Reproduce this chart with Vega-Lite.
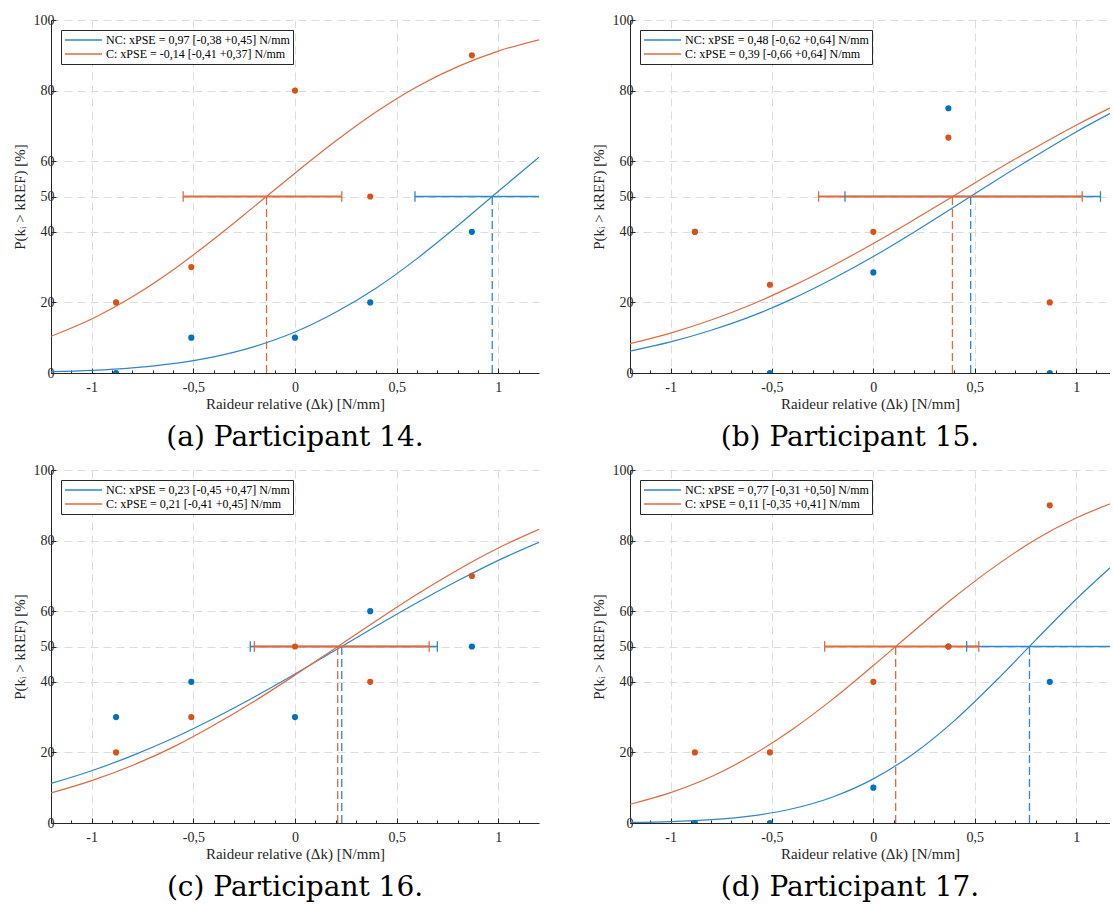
{
  "$schema": "https://vega.github.io/schema/vega-lite/v6.json",
  "background": "white",
  "padding": {"left": 12, "top": 13, "right": 0, "bottom": 0},
  "datasets": {
    "curves": [
      {"panel": "a", "x": -1.2, "NC": 0.38, "C": 10.4}, {"panel": "a", "x": -1.0, "NC": 0.76, "C": 15.3}, {"panel": "a", "x": -0.8, "NC": 1.46, "C": 21.6}, {"panel": "a", "x": -0.6, "NC": 2.66, "C": 29.2}, {"panel": "a", "x": -0.4, "NC": 4.58, "C": 37.9}, {"panel": "a", "x": -0.2, "NC": 7.48, "C": 47.2}, {"panel": "a", "x": 0.0, "NC": 11.6, "C": 56.6}, {"panel": "a", "x": 0.2, "NC": 17.2, "C": 65.7}, {"panel": "a", "x": 0.4, "NC": 24.1, "C": 74.0}, {"panel": "a", "x": 0.6, "NC": 32.4, "C": 81.1}, {"panel": "a", "x": 0.8, "NC": 41.7, "C": 86.8}, {"panel": "a", "x": 1.0, "NC": 51.5, "C": 91.2}, {"panel": "a", "x": 1.2, "NC": 61.1, "C": 94.4},
      {"panel": "b", "x": -1.2, "NC": 6.2, "C": 8.3}, {"panel": "b", "x": -1.0, "NC": 8.8, "C": 11.3}, {"panel": "b", "x": -0.8, "NC": 12.1, "C": 15.0}, {"panel": "b", "x": -0.6, "NC": 16.1, "C": 19.4}, {"panel": "b", "x": -0.4, "NC": 21.0, "C": 24.6}, {"panel": "b", "x": -0.2, "NC": 26.7, "C": 30.4}, {"panel": "b", "x": 0.0, "NC": 33.0, "C": 36.7}, {"panel": "b", "x": 0.2, "NC": 39.9, "C": 43.4}, {"panel": "b", "x": 0.4, "NC": 47.1, "C": 50.3}, {"panel": "b", "x": 0.6, "NC": 54.4, "C": 57.3}, {"panel": "b", "x": 0.8, "NC": 61.5, "C": 63.9}, {"panel": "b", "x": 1.0, "NC": 68.3, "C": 70.2}, {"panel": "b", "x": 1.2, "NC": 74.5, "C": 76.0},
      {"panel": "c", "x": -1.2, "NC": 11.2, "C": 8.5}, {"panel": "c", "x": -1.0, "NC": 14.8, "C": 12.0}, {"panel": "c", "x": -0.8, "NC": 19.1, "C": 16.3}, {"panel": "c", "x": -0.6, "NC": 24.0, "C": 21.5}, {"panel": "c", "x": -0.4, "NC": 29.6, "C": 27.7}, {"panel": "c", "x": -0.2, "NC": 35.7, "C": 34.5}, {"panel": "c", "x": 0.0, "NC": 42.2, "C": 41.9}, {"panel": "c", "x": 0.2, "NC": 49.0, "C": 49.6}, {"panel": "c", "x": 0.4, "NC": 55.8, "C": 57.3}, {"panel": "c", "x": 0.6, "NC": 62.4, "C": 64.8}, {"panel": "c", "x": 0.8, "NC": 68.6, "C": 71.7}, {"panel": "c", "x": 1.0, "NC": 74.4, "C": 77.9}, {"panel": "c", "x": 1.2, "NC": 79.5, "C": 83.2},
      {"panel": "d", "x": -1.2, "NC": 0.16, "C": 5.3}, {"panel": "d", "x": -1.0, "NC": 0.41, "C": 8.6}, {"panel": "d", "x": -0.8, "NC": 0.96, "C": 13.1}, {"panel": "d", "x": -0.6, "NC": 2.04, "C": 19.1}, {"panel": "d", "x": -0.4, "NC": 4.04, "C": 26.5}, {"panel": "d", "x": -0.2, "NC": 7.38, "C": 35.1}, {"panel": "d", "x": 0.0, "NC": 12.5, "C": 44.6}, {"panel": "d", "x": 0.2, "NC": 19.7, "C": 54.4}, {"panel": "d", "x": 0.4, "NC": 29.0, "C": 64.0}, {"panel": "d", "x": 0.6, "NC": 40.0, "C": 72.7}, {"panel": "d", "x": 0.8, "NC": 51.8, "C": 80.3}, {"panel": "d", "x": 1.0, "NC": 63.4, "C": 86.4}, {"panel": "d", "x": 1.2, "NC": 74.0, "C": 91.1}
    ],
    "pts": [
      {"panel": "a", "x": -0.88, "NC": 0, "C": 20}, {"panel": "a", "x": -0.51, "NC": 10, "C": 30}, {"panel": "a", "x": 0, "NC": 10, "C": 80}, {"panel": "a", "x": 0.37, "NC": 20, "C": 50}, {"panel": "a", "x": 0.87, "NC": 40, "C": 90},
      {"panel": "b", "x": -0.88, "NC": 40, "C": 40}, {"panel": "b", "x": -0.51, "NC": 0, "C": 25}, {"panel": "b", "x": 0, "NC": 28.5, "C": 40}, {"panel": "b", "x": 0.37, "NC": 75, "C": 66.7}, {"panel": "b", "x": 0.87, "NC": 0, "C": 20},
      {"panel": "c", "x": -0.88, "NC": 30, "C": 20}, {"panel": "c", "x": -0.51, "NC": 40, "C": 30}, {"panel": "c", "x": 0, "NC": 30, "C": 50}, {"panel": "c", "x": 0.37, "NC": 60, "C": 40}, {"panel": "c", "x": 0.87, "NC": 50, "C": 70},
      {"panel": "d", "x": -0.88, "NC": 0, "C": 20}, {"panel": "d", "x": -0.51, "NC": 0, "C": 20}, {"panel": "d", "x": 0, "NC": 10, "C": 40}, {"panel": "d", "x": 0.37, "NC": 50, "C": 50}, {"panel": "d", "x": 0.87, "NC": 40, "C": 90}
    ],
    "pse": [
      {"panel": "a", "grp": "NC", "pse": 0.97, "lo": 0.59, "hi": 1.42}, {"panel": "a", "grp": "C", "pse": -0.14, "lo": -0.55, "hi": 0.23},
      {"panel": "b", "grp": "NC", "pse": 0.48, "lo": -0.14, "hi": 1.12}, {"panel": "b", "grp": "C", "pse": 0.39, "lo": -0.27, "hi": 1.03},
      {"panel": "c", "grp": "NC", "pse": 0.23, "lo": -0.22, "hi": 0.70}, {"panel": "c", "grp": "C", "pse": 0.21, "lo": -0.20, "hi": 0.66},
      {"panel": "d", "grp": "NC", "pse": 0.77, "lo": 0.46, "hi": 1.27}, {"panel": "d", "grp": "C", "pse": 0.11, "lo": -0.24, "hi": 0.52}
    ]
  },
  "columns": 2,
  "spacing": {"row": 97, "column": 91},
  "bounds": "flush",
  "resolve": {"scale": {"x": "independent", "y": "independent", "stroke": "independent", "fill": "independent"}, "legend": {"stroke": "independent"}},
  "concat": [
    {
      "width": 488, "height": 353,
      "title": {"text": "(a) Participant 14."},
      "layer": [
        {"data": {"name": "curves"}, "transform": [{"filter": "datum.panel == 'a'"}, {"fold": ["NC", "C"], "as": ["grp", "p"]}],
         "mark": {"type": "line", "clip": true, "interpolate": "monotone", "strokeWidth": 1.2},
         "encoding": {
           "x": {"field": "x", "type": "quantitative", "scale": {"domain": [-1.2, 1.2], "nice": false, "zero": false},
                 "axis": {"title": "Raideur relative (Δk) [N/mm]", "labelOverlap": false, "tickCount": 100, "values": [-1.1, -1, -0.9, -0.8, -0.7, -0.6, -0.5, -0.4, -0.3, -0.2, -0.1, 0, 0.1, 0.2, 0.3, 0.4, 0.5, 0.6, 0.7, 0.8, 0.9, 1, 1.1],
                          "labelExpr": "(abs(datum.value) == 1 || datum.value == 0 || abs(datum.value) == 0.5) ? (datum.value < 0 ? '-' : '') + replace(format(abs(datum.value), '~g'), '.', ',') : ''",
                          "gridOpacity": {"condition": {"test": "abs(datum.value) == 1 || datum.value == 0 || abs(datum.value) == 0.5", "value": 1}, "value": 0},
                          "tickSize": {"condition": {"test": "abs(datum.value) == 1 || datum.value == 0 || abs(datum.value) == 0.5", "value": -5}, "value": -3}}},
           "y": {"field": "p", "type": "quantitative", "scale": {"domain": [0, 100], "nice": false},
                 "axis": {"title": "P(kᵢ > kREF) [%]", "tickCount": 50, "values": [0, 20, 40, 50, 60, 80, 100], "tickSize": -5}},
           "stroke": {"field": "grp", "type": "nominal", "scale": {"domain": ["NC", "C"], "range": ["#2a87d0", "#e5693b"]},
                      "legend": {"title": null, "labelExpr": "datum.label == 'NC' ? 'NC: xPSE = 0,97 [-0,38 +0,45] N/mm' : 'C: xPSE = -0,14 [-0,41 +0,37] N/mm'"}}
         }},
        {"data": {"name": "pse"}, "transform": [{"filter": "datum.panel == 'a'"}],
         "mark": {"type": "rule", "clip": true},
         "encoding": {"x": {"field": "lo", "type": "quantitative"}, "x2": {"field": "hi"}, "y": {"datum": 50}, "stroke": {"field": "grp", "type": "nominal", "legend": null},
                      "strokeWidth": {"condition": {"test": "datum.grp == 'C'", "value": 1.8}, "value": 1.3}}},
        {"data": {"name": "pse"}, "transform": [{"filter": "datum.panel == 'a'"}],
         "mark": {"type": "rule", "clip": true, "strokeWidth": 1.3},
         "encoding": {"x": {"field": "lo", "type": "quantitative"}, "y": {"datum": 48.5}, "y2": {"datum": 51.5}, "stroke": {"field": "grp", "type": "nominal", "legend": null}}},
        {"data": {"name": "pse"}, "transform": [{"filter": "datum.panel == 'a'"}],
         "mark": {"type": "rule", "clip": true, "strokeWidth": 1.3},
         "encoding": {"x": {"field": "hi", "type": "quantitative"}, "y": {"datum": 48.5}, "y2": {"datum": 51.5}, "stroke": {"field": "grp", "type": "nominal", "legend": null}}},
        {"data": {"name": "pse"}, "transform": [{"filter": "datum.panel == 'a'"}],
         "mark": {"type": "rule", "clip": true, "strokeWidth": 1.3, "strokeDash": [8, 4]},
         "encoding": {"x": {"field": "pse", "type": "quantitative"}, "y": {"datum": 0}, "y2": {"datum": 50}, "stroke": {"field": "grp", "type": "nominal", "legend": null}}},
        {"data": {"name": "pts"}, "transform": [{"filter": "datum.panel == 'a'"}, {"fold": ["NC", "C"], "as": ["grp", "p"]}],
         "mark": {"type": "circle", "size": 38, "opacity": 1, "clip": true},
         "encoding": {"x": {"field": "x", "type": "quantitative"}, "y": {"field": "p", "type": "quantitative"},
                      "fill": {"field": "grp", "type": "nominal", "scale": {"domain": ["NC", "C"], "range": ["#0072BD", "#D95319"]}, "legend": null}}}
      ]
    },
    {
      "width": 480, "height": 353,
      "title": {"text": "(b) Participant 15.", "dx": -20},
      "layer": [
        {"data": {"name": "curves"}, "transform": [{"filter": "datum.panel == 'b'"}, {"fold": ["NC", "C"], "as": ["grp", "p"]}],
         "mark": {"type": "line", "clip": true, "interpolate": "monotone", "strokeWidth": 1.2},
         "encoding": {
           "x": {"field": "x", "type": "quantitative", "scale": {"domain": [-1.2, 1.167], "nice": false, "zero": false},
                 "axis": {"title": "Raideur relative (Δk) [N/mm]", "labelOverlap": false, "tickCount": 100, "values": [-1.1, -1, -0.9, -0.8, -0.7, -0.6, -0.5, -0.4, -0.3, -0.2, -0.1, 0, 0.1, 0.2, 0.3, 0.4, 0.5, 0.6, 0.7, 0.8, 0.9, 1, 1.1],
                          "labelExpr": "(abs(datum.value) == 1 || datum.value == 0 || abs(datum.value) == 0.5) ? (datum.value < 0 ? '-' : '') + replace(format(abs(datum.value), '~g'), '.', ',') : ''",
                          "gridOpacity": {"condition": {"test": "abs(datum.value) == 1 || datum.value == 0 || abs(datum.value) == 0.5", "value": 1}, "value": 0},
                          "tickSize": {"condition": {"test": "abs(datum.value) == 1 || datum.value == 0 || abs(datum.value) == 0.5", "value": -5}, "value": -3}}},
           "y": {"field": "p", "type": "quantitative", "scale": {"domain": [0, 100], "nice": false},
                 "axis": {"title": "P(kᵢ > kREF) [%]", "tickCount": 50, "values": [0, 20, 40, 50, 60, 80, 100], "tickSize": -5}},
           "stroke": {"field": "grp", "type": "nominal", "scale": {"domain": ["NC", "C"], "range": ["#2a87d0", "#e5693b"]},
                      "legend": {"title": null, "labelExpr": "datum.label == 'NC' ? 'NC: xPSE = 0,48 [-0,62 +0,64] N/mm' : 'C: xPSE = 0,39 [-0,66 +0,64] N/mm'"}}
         }},
        {"data": {"name": "pse"}, "transform": [{"filter": "datum.panel == 'b'"}],
         "mark": {"type": "rule", "clip": true},
         "encoding": {"x": {"field": "lo", "type": "quantitative"}, "x2": {"field": "hi"}, "y": {"datum": 50}, "stroke": {"field": "grp", "type": "nominal", "legend": null},
                      "strokeWidth": {"condition": {"test": "datum.grp == 'C'", "value": 1.8}, "value": 1.3}}},
        {"data": {"name": "pse"}, "transform": [{"filter": "datum.panel == 'b'"}],
         "mark": {"type": "rule", "clip": true, "strokeWidth": 1.3},
         "encoding": {"x": {"field": "lo", "type": "quantitative"}, "y": {"datum": 48.5}, "y2": {"datum": 51.5}, "stroke": {"field": "grp", "type": "nominal", "legend": null}}},
        {"data": {"name": "pse"}, "transform": [{"filter": "datum.panel == 'b'"}],
         "mark": {"type": "rule", "clip": true, "strokeWidth": 1.3},
         "encoding": {"x": {"field": "hi", "type": "quantitative"}, "y": {"datum": 48.5}, "y2": {"datum": 51.5}, "stroke": {"field": "grp", "type": "nominal", "legend": null}}},
        {"data": {"name": "pse"}, "transform": [{"filter": "datum.panel == 'b'"}],
         "mark": {"type": "rule", "clip": true, "strokeWidth": 1.3, "strokeDash": [8, 4]},
         "encoding": {"x": {"field": "pse", "type": "quantitative"}, "y": {"datum": 0}, "y2": {"datum": 50}, "stroke": {"field": "grp", "type": "nominal", "legend": null}}},
        {"data": {"name": "pts"}, "transform": [{"filter": "datum.panel == 'b'"}, {"fold": ["NC", "C"], "as": ["grp", "p"]}],
         "mark": {"type": "circle", "size": 38, "opacity": 1, "clip": true},
         "encoding": {"x": {"field": "x", "type": "quantitative"}, "y": {"field": "p", "type": "quantitative"},
                      "fill": {"field": "grp", "type": "nominal", "scale": {"domain": ["NC", "C"], "range": ["#0072BD", "#D95319"]}, "legend": null}}}
      ]
    },
    {
      "width": 488, "height": 353,
      "title": {"text": "(c) Participant 16."},
      "layer": [
        {"data": {"name": "curves"}, "transform": [{"filter": "datum.panel == 'c'"}, {"fold": ["NC", "C"], "as": ["grp", "p"]}],
         "mark": {"type": "line", "clip": true, "interpolate": "monotone", "strokeWidth": 1.2},
         "encoding": {
           "x": {"field": "x", "type": "quantitative", "scale": {"domain": [-1.2, 1.2], "nice": false, "zero": false},
                 "axis": {"title": "Raideur relative (Δk) [N/mm]", "labelOverlap": false, "tickCount": 100, "values": [-1.1, -1, -0.9, -0.8, -0.7, -0.6, -0.5, -0.4, -0.3, -0.2, -0.1, 0, 0.1, 0.2, 0.3, 0.4, 0.5, 0.6, 0.7, 0.8, 0.9, 1, 1.1],
                          "labelExpr": "(abs(datum.value) == 1 || datum.value == 0 || abs(datum.value) == 0.5) ? (datum.value < 0 ? '-' : '') + replace(format(abs(datum.value), '~g'), '.', ',') : ''",
                          "gridOpacity": {"condition": {"test": "abs(datum.value) == 1 || datum.value == 0 || abs(datum.value) == 0.5", "value": 1}, "value": 0},
                          "tickSize": {"condition": {"test": "abs(datum.value) == 1 || datum.value == 0 || abs(datum.value) == 0.5", "value": -5}, "value": -3}}},
           "y": {"field": "p", "type": "quantitative", "scale": {"domain": [0, 100], "nice": false},
                 "axis": {"title": "P(kᵢ > kREF) [%]", "tickCount": 50, "values": [0, 20, 40, 50, 60, 80, 100], "tickSize": -5}},
           "stroke": {"field": "grp", "type": "nominal", "scale": {"domain": ["NC", "C"], "range": ["#2a87d0", "#e5693b"]},
                      "legend": {"title": null, "labelExpr": "datum.label == 'NC' ? 'NC: xPSE = 0,23 [-0,45 +0,47] N/mm' : 'C: xPSE = 0,21 [-0,41 +0,45] N/mm'"}}
         }},
        {"data": {"name": "pse"}, "transform": [{"filter": "datum.panel == 'c'"}],
         "mark": {"type": "rule", "clip": true},
         "encoding": {"x": {"field": "lo", "type": "quantitative"}, "x2": {"field": "hi"}, "y": {"datum": 50}, "stroke": {"field": "grp", "type": "nominal", "legend": null},
                      "strokeWidth": {"condition": {"test": "datum.grp == 'C'", "value": 1.8}, "value": 1.3}}},
        {"data": {"name": "pse"}, "transform": [{"filter": "datum.panel == 'c'"}],
         "mark": {"type": "rule", "clip": true, "strokeWidth": 1.3},
         "encoding": {"x": {"field": "lo", "type": "quantitative"}, "y": {"datum": 48.5}, "y2": {"datum": 51.5}, "stroke": {"field": "grp", "type": "nominal", "legend": null}}},
        {"data": {"name": "pse"}, "transform": [{"filter": "datum.panel == 'c'"}],
         "mark": {"type": "rule", "clip": true, "strokeWidth": 1.3},
         "encoding": {"x": {"field": "hi", "type": "quantitative"}, "y": {"datum": 48.5}, "y2": {"datum": 51.5}, "stroke": {"field": "grp", "type": "nominal", "legend": null}}},
        {"data": {"name": "pse"}, "transform": [{"filter": "datum.panel == 'c'"}],
         "mark": {"type": "rule", "clip": true, "strokeWidth": 1.3, "strokeDash": [8, 4]},
         "encoding": {"x": {"field": "pse", "type": "quantitative"}, "y": {"datum": 0}, "y2": {"datum": 50}, "stroke": {"field": "grp", "type": "nominal", "legend": null}}},
        {"data": {"name": "pts"}, "transform": [{"filter": "datum.panel == 'c'"}, {"fold": ["NC", "C"], "as": ["grp", "p"]}],
         "mark": {"type": "circle", "size": 38, "opacity": 1, "clip": true},
         "encoding": {"x": {"field": "x", "type": "quantitative"}, "y": {"field": "p", "type": "quantitative"},
                      "fill": {"field": "grp", "type": "nominal", "scale": {"domain": ["NC", "C"], "range": ["#0072BD", "#D95319"]}, "legend": null}}}
      ]
    },
    {
      "width": 480, "height": 353,
      "title": {"text": "(d) Participant 17.", "dx": -20},
      "layer": [
        {"data": {"name": "curves"}, "transform": [{"filter": "datum.panel == 'd'"}, {"fold": ["NC", "C"], "as": ["grp", "p"]}],
         "mark": {"type": "line", "clip": true, "interpolate": "monotone", "strokeWidth": 1.2},
         "encoding": {
           "x": {"field": "x", "type": "quantitative", "scale": {"domain": [-1.2, 1.167], "nice": false, "zero": false},
                 "axis": {"title": "Raideur relative (Δk) [N/mm]", "labelOverlap": false, "tickCount": 100, "values": [-1.1, -1, -0.9, -0.8, -0.7, -0.6, -0.5, -0.4, -0.3, -0.2, -0.1, 0, 0.1, 0.2, 0.3, 0.4, 0.5, 0.6, 0.7, 0.8, 0.9, 1, 1.1],
                          "labelExpr": "(abs(datum.value) == 1 || datum.value == 0 || abs(datum.value) == 0.5) ? (datum.value < 0 ? '-' : '') + replace(format(abs(datum.value), '~g'), '.', ',') : ''",
                          "gridOpacity": {"condition": {"test": "abs(datum.value) == 1 || datum.value == 0 || abs(datum.value) == 0.5", "value": 1}, "value": 0},
                          "tickSize": {"condition": {"test": "abs(datum.value) == 1 || datum.value == 0 || abs(datum.value) == 0.5", "value": -5}, "value": -3}}},
           "y": {"field": "p", "type": "quantitative", "scale": {"domain": [0, 100], "nice": false},
                 "axis": {"title": "P(kᵢ > kREF) [%]", "tickCount": 50, "values": [0, 20, 40, 50, 60, 80, 100], "tickSize": -5}},
           "stroke": {"field": "grp", "type": "nominal", "scale": {"domain": ["NC", "C"], "range": ["#2a87d0", "#e5693b"]},
                      "legend": {"title": null, "labelExpr": "datum.label == 'NC' ? 'NC: xPSE = 0,77 [-0,31 +0,50] N/mm' : 'C: xPSE = 0,11 [-0,35 +0,41] N/mm'"}}
         }},
        {"data": {"name": "pse"}, "transform": [{"filter": "datum.panel == 'd'"}],
         "mark": {"type": "rule", "clip": true},
         "encoding": {"x": {"field": "lo", "type": "quantitative"}, "x2": {"field": "hi"}, "y": {"datum": 50}, "stroke": {"field": "grp", "type": "nominal", "legend": null},
                      "strokeWidth": {"condition": {"test": "datum.grp == 'C'", "value": 1.8}, "value": 1.3}}},
        {"data": {"name": "pse"}, "transform": [{"filter": "datum.panel == 'd'"}],
         "mark": {"type": "rule", "clip": true, "strokeWidth": 1.3},
         "encoding": {"x": {"field": "lo", "type": "quantitative"}, "y": {"datum": 48.5}, "y2": {"datum": 51.5}, "stroke": {"field": "grp", "type": "nominal", "legend": null}}},
        {"data": {"name": "pse"}, "transform": [{"filter": "datum.panel == 'd'"}],
         "mark": {"type": "rule", "clip": true, "strokeWidth": 1.3},
         "encoding": {"x": {"field": "hi", "type": "quantitative"}, "y": {"datum": 48.5}, "y2": {"datum": 51.5}, "stroke": {"field": "grp", "type": "nominal", "legend": null}}},
        {"data": {"name": "pse"}, "transform": [{"filter": "datum.panel == 'd'"}],
         "mark": {"type": "rule", "clip": true, "strokeWidth": 1.3, "strokeDash": [8, 4]},
         "encoding": {"x": {"field": "pse", "type": "quantitative"}, "y": {"datum": 0}, "y2": {"datum": 50}, "stroke": {"field": "grp", "type": "nominal", "legend": null}}},
        {"data": {"name": "pts"}, "transform": [{"filter": "datum.panel == 'd'"}, {"fold": ["NC", "C"], "as": ["grp", "p"]}],
         "mark": {"type": "circle", "size": 38, "opacity": 1, "clip": true},
         "encoding": {"x": {"field": "x", "type": "quantitative"}, "y": {"field": "p", "type": "quantitative"},
                      "fill": {"field": "grp", "type": "nominal", "scale": {"domain": ["NC", "C"], "range": ["#0072BD", "#D95319"]}, "legend": null}}}
      ]
    }
  ],
  "config": {
    "view": {"stroke": null},
    "font": "Liberation Serif",
    "axis": {"domainColor": "#262626", "domainWidth": 1, "tickColor": "#262626", "tickWidth": 1, "grid": true, "gridColor": "#dcdcdc", "gridDash": [8, 5], "gridWidth": 1,
             "labelFont": "Liberation Serif", "labelFontSize": 14, "labelColor": "#262626",
             "titleFont": "Liberation Serif", "titleFontSize": 15, "titleFontWeight": "normal", "titleColor": "#262626"},
    "axisX": {"labelPadding": 12, "titlePadding": 0},
    "axisY": {"labelPadding": 2, "titlePadding": 6},
    "legend": {"orient": "top-left", "offset": 10, "strokeColor": "#262626", "fillColor": "white", "padding": 3, "symbolType": "stroke", "symbolSize": 1369, "symbolStrokeWidth": 1.5, "clipHeight": 14, "rowPadding": 0, "labelFont": "Liberation Serif", "labelFontSize": 12, "labelColor": "black", "labelOffset": 3, "labelLimit": 400},
    "title": {"orient": "bottom", "font": "DejaVu Serif", "fontSize": 28, "fontWeight": "normal", "color": "black", "offset": 13, "anchor": "middle", "frame": "group"}
  }
}
